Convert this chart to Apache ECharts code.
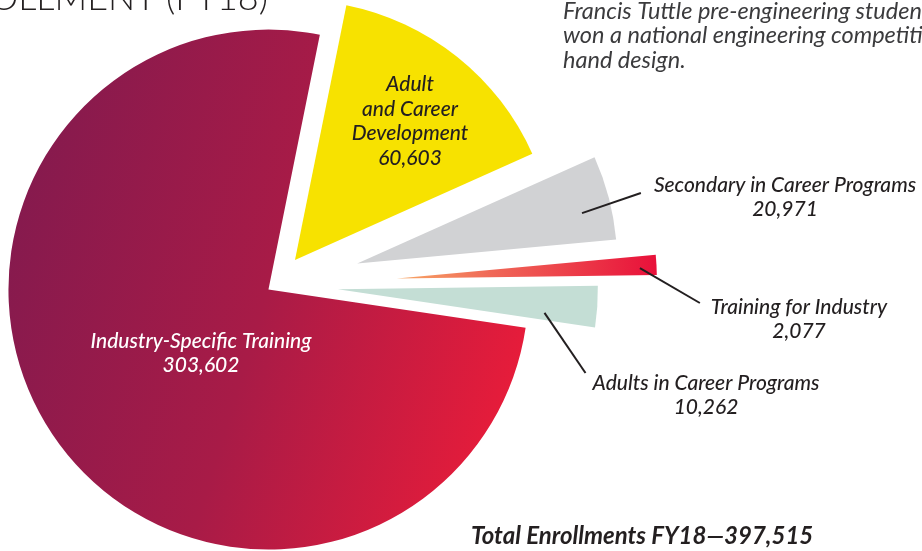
<!DOCTYPE html>
<html>
<head>
<meta charset="utf-8">
<script src="https://cdn.jsdelivr.net/npm/echarts@6/dist/echarts.min.js"></script>
<style>
html,body{margin:0;padding:0;background:#fff;}
#main{width:922px;height:551px;}
</style>
</head>
<body>
<div id="main"></div>
<script>
// slices in clockwise order starting near 12 o'clock
const names = ['Adult\nand Career\nDevelopment', 'Secondary in Career Programs', 'Training for Industry', 'Adults in Career Programs', 'Industry-Specific Training'];
const values = [60603, 20971, 2077, 10262, 303602];
const totalLabel = 'Total Enrollments FY18\u2014397,515';

// layout / style (not data)
const baseCenter = [275, 285];
const radius = 260;
const startAngle = 78.6;
const minAngle = 4.5;
const offsets = [32, 85, 122, 63, 8];   // explode distance of each slice
const labelPos = [[410, 121], [785, 197], [799, 319], [706, 395], [201, 353]];
const outside = [false, true, true, true, false];
const textColors = ['#231f20', '#231f20', '#231f20', '#231f20', '#ffffff'];
// pointer line: starts inside the slice [radius fraction, angle fraction], ends beside the label [dx, dy]
const lineStart = [null, [0.886, 0.61], [0.936, 0.62], [0.80, 0.79], null];
const lineEnd = [null, [-13, 20.5], [-11, 8.5], [-7, 2.5], null];

// same angle split as the pie layout (minAngle included) so each exploded slice moves along its middle
const sum = values.reduce(function (a, b) { return a + b; }, 0);
let rest = 360, bigSum = 0;
values.forEach(function (v) {
  if (v / sum * 360 < minAngle) rest -= minAngle; else bigSum += v;
});
const spans = values.map(function (v) {
  return v / sum * 360 < minAngle ? minAngle : v / bigSum * rest;
});
const starts = [];
let acc = 90 - startAngle;
spans.forEach(function (s) { starts.push(acc); acc += s; });
const rad = Math.PI / 180;
const centers = values.map(function (v, k) {
  const mid = (starts[k] + spans[k] / 2) * rad;
  return [baseCenter[0] + offsets[k] * Math.sin(mid), baseCenter[1] - offsets[k] * Math.cos(mid)];
});
function pointInSlice(k, rf, af) {
  const a = (starts[k] + af * spans[k]) * rad;
  return [centers[k][0] + rf * radius * Math.sin(a), centers[k][1] - rf * radius * Math.cos(a)];
}

const chart = echarts.init(document.getElementById('main'), null, {renderer: 'canvas'});

const colors = [
  '#f7e200',
  '#d1d2d4',
  new echarts.graphic.LinearGradient(0, 0, 1, 0, [
    {offset: 0, color: '#f8a866'},
    {offset: 0.35, color: '#f06a58'},
    {offset: 1, color: '#e8103a'}
  ]),
  '#c4ded5',
  new echarts.graphic.LinearGradient(0, 0.35, 1, 0.65, [
    {offset: 0, color: '#851a4e'},
    {offset: 0.5, color: '#a81b47'},
    {offset: 1, color: '#e81c3a'}
  ])
];

function pieBase(k) {
  return {
    type: 'pie',
    center: centers[k],
    radius: radius,
    startAngle: startAngle,
    clockwise: true,
    minAngle: minAngle,
    avoidLabelOverlap: false,
    animation: false,
    silent: true,
    itemStyle: {borderWidth: 0}
  };
}

const series = [];
// the slices themselves
values.forEach(function (v, k) {
  const s = pieBase(k);
  s.z = 2;
  s.label = {show: false};
  s.labelLine = {show: false};
  s.data = names.map(function (n, i) {
    return {name: n, value: values[i],
      itemStyle: {color: i === k ? colors[i] : 'rgba(0,0,0,0)', borderWidth: 0}};
  });
  series.push(s);
});
// clear copies on top that carry the labels, so pointer lines are drawn over the slices
values.forEach(function (v, k) {
  const s = pieBase(k);
  s.z = 5;
  s.label = {
    show: true,
    position: outside[k] ? 'outside' : 'inside',
    fontFamily: 'Lato',
    fontStyle: 'italic',
    fontWeight: 500,
    fontSize: 21,
    lineHeight: 24.5,
    align: 'center',
    color: textColors[k],
    formatter: function (p) {
      return p.name + '\n' + p.value.toLocaleString('en-US');
    }
  };
  s.labelLine = {
    show: outside[k],
    length: 10,
    length2: 0,
    lineStyle: {color: '#231f20', width: 2}
  };
  s.labelLayout = function (p) {
    if (p.dataIndex !== k) return {};
    const out = {x: labelPos[k][0], y: labelPos[k][1], align: 'center', verticalAlign: 'middle'};
    if (outside[k]) {
      const lr = p.labelRect;
      const lx = labelPos[k][0] - lr.width / 2, ly = labelPos[k][1] - lr.height / 2;
      out.labelLinePoints = [
        pointInSlice(k, lineStart[k][0], lineStart[k][1]),
        [lx + lineEnd[k][0], ly + lineEnd[k][1]]
      ];
    }
    return out;
  };
  s.data = names.map(function (n, i) {
    return {name: n, value: values[i],
      itemStyle: {color: 'rgba(0,0,0,0)', borderWidth: 0},
      label: {show: i === k},
      labelLine: {show: i === k && outside[k]}};
  });
  series.push(s);
});

chart.setOption({
  backgroundColor: '#ffffff',
  animation: false,
  textStyle: {fontFamily: 'Lato'},
  series: series,
  graphic: [
    {
      type: 'text', x: 268, y: 16,
      style: {text: 'ENROLLMENT (FY18)', align: 'right', verticalAlign: 'bottom',
        font: '300 36px Lato', fill: '#231f20'}
    },
    {
      type: 'text', x: 563, y: -1,
      style: {text: 'Francis Tuttle pre-engineering students\nwon a national engineering competition\nhand design.',
        font: 'italic 400 23.5px Lato', lineHeight: 24.5, fill: '#3b3b3d', verticalAlign: 'top'}
    },
    {
      type: 'text', x: 471, y: 536,
      style: {text: totalLabel, font: 'italic bold 24px Lato', fill: '#231f20', verticalAlign: 'middle'}
    }
  ]
});
</script>
</body>
</html>
